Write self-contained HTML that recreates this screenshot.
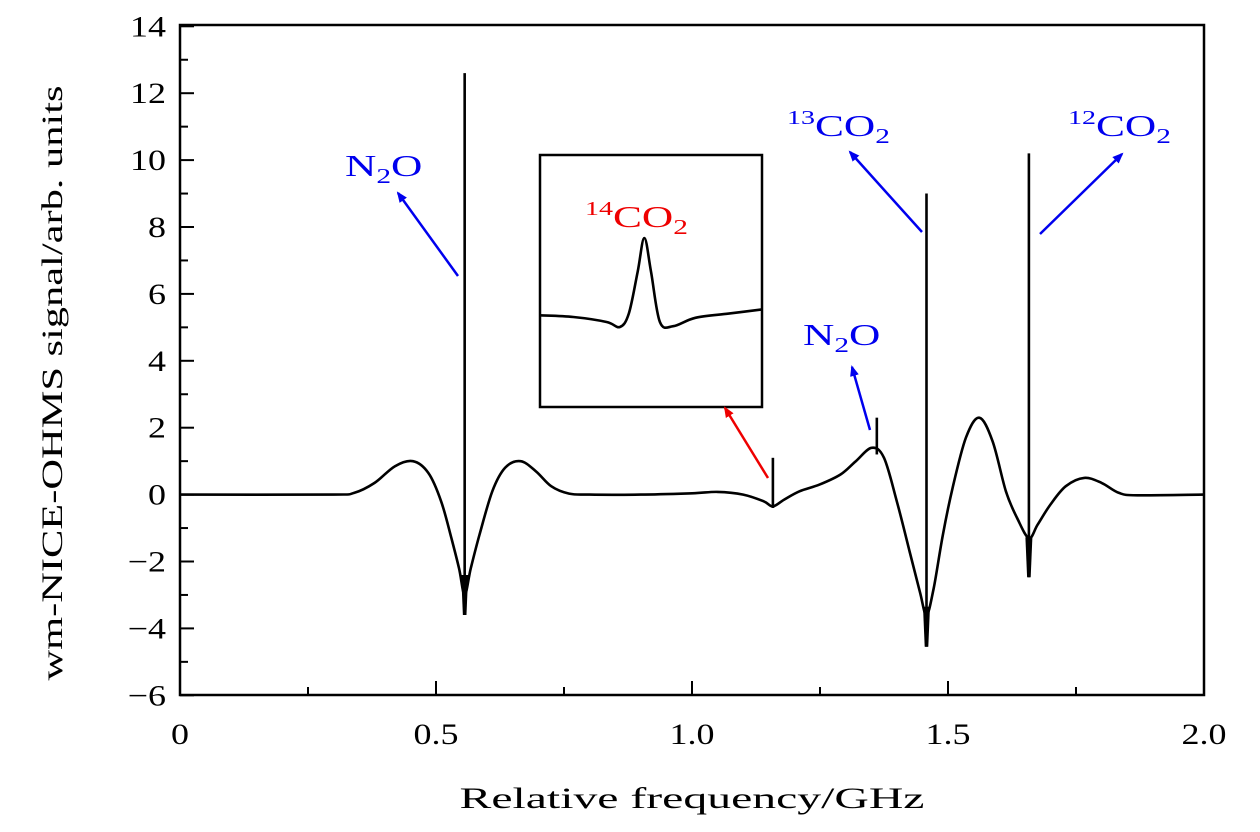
<!DOCTYPE html>
<html><head><meta charset="utf-8"><style>
body{margin:0;background:#fff;}
svg text{font-family:"Liberation Serif",serif;}
</style></head><body>
<svg width="1260" height="827" viewBox="0 0 1260 827" xmlns="http://www.w3.org/2000/svg">
<g id="ticks"></g>
<path id="curve" fill="none" stroke="#000" stroke-width="2.6" stroke-linejoin="round"/>
<g id="spikes"></g>
<rect x="180" y="25" width="1024" height="670" fill="none" stroke="#000" stroke-width="2.5"/>
<g>
<rect x="540" y="155" width="222" height="252" fill="#fff" stroke="#000" stroke-width="2.5"/>
<path id="insetCurve" fill="none" stroke="#000" stroke-width="2.6"/>
<text transform="translate(585,227) scale(1.4,1)" font-size="31" fill="#e00"><tspan font-size="20" dy="-12">14</tspan><tspan dy="12">CO</tspan><tspan font-size="21" dy="7">2</tspan></text>
</g>
<defs>
<marker id="ab" markerWidth="11" markerHeight="9" refX="9" refY="4.5" orient="auto" markerUnits="userSpaceOnUse"><path d="M0,0 L11,4.5 L0,9 z" fill="#00e"/></marker>
<marker id="ar" markerWidth="11" markerHeight="9" refX="9" refY="4.5" orient="auto" markerUnits="userSpaceOnUse"><path d="M0,0 L11,4.5 L0,9 z" fill="#e00"/></marker>
</defs>
<g stroke-width="2.5">
<line x1="458" y1="276" x2="398" y2="193" stroke="#00e" marker-end="url(#ab)"/>
<line x1="922" y1="232" x2="850" y2="152" stroke="#00e" marker-end="url(#ab)"/>
<line x1="1040" y1="234" x2="1122" y2="154" stroke="#00e" marker-end="url(#ab)"/>
<line x1="870" y1="430" x2="852" y2="367" stroke="#00e" marker-end="url(#ab)"/>
<line x1="768" y1="478" x2="725" y2="408" stroke="#e00" marker-end="url(#ar)"/>
</g>
<g fill="#00e" font-size="31">
<text transform="translate(345,176) scale(1.4,1)">N<tspan font-size="21" dy="7">2</tspan><tspan dy="-7">O</tspan></text>
<text transform="translate(803,345) scale(1.4,1)">N<tspan font-size="21" dy="7">2</tspan><tspan dy="-7">O</tspan></text>
<text transform="translate(787,136) scale(1.4,1)"><tspan font-size="20" dy="-12">13</tspan><tspan dy="12">CO</tspan><tspan font-size="21" dy="7">2</tspan></text>
<text transform="translate(1068,136) scale(1.4,1)"><tspan font-size="20" dy="-12">12</tspan><tspan dy="12">CO</tspan><tspan font-size="21" dy="7">2</tspan></text>
</g>
<text x="692" y="808" font-size="30" text-anchor="middle" textLength="465" lengthAdjust="spacingAndGlyphs">Relative frequency/GHz</text>
<text transform="translate(62,383) rotate(-90)" font-size="30" text-anchor="middle" textLength="595" lengthAdjust="spacingAndGlyphs">wm-NICE-OHMS signal/arb. units</text>
</svg>
<script>
var xTicks=[0,0.5,1.0,1.5,2.0];
var xTickLabels=["0","0.5","1.0","1.5","2.0"];
var yTicks=[-6,-4,-2,0,2,4,6,8,10,12,14];
var yTickLabels=["\u22126","\u22124","\u22122","0","2","4","6","8","10","12","14"];
var baseFreq=[0,0.3,0.34,0.38,0.42,0.455,0.485,0.51,0.53,0.545,0.556,0.568,0.585,0.61,0.635,0.665,0.695,0.725,0.76,0.8,0.9,1.0,1.05,1.1,1.14,1.158,1.18,1.21,1.249,1.29,1.32,1.351,1.375,1.4,1.425,1.445,1.458,1.472,1.49,1.509,1.535,1.561,1.587,1.613,1.635,1.658,1.675,1.7,1.73,1.766,1.8,1.834,1.87,2.0];
var baseSignal=[0,0,0.05,0.35,0.85,1.0,0.65,-0.2,-1.3,-2.2,-3.0,-2.2,-1.2,0.1,0.8,1.0,0.7,0.25,0.03,0,0,0.04,0.08,0,-0.2,-0.35,-0.15,0.1,0.3,0.6,1.0,1.4,1.1,-0.2,-1.7,-2.9,-3.6,-2.8,-1.2,0.2,1.7,2.3,1.6,0.1,-0.7,-1.3,-0.9,-0.3,0.25,0.5,0.35,0.05,-0.02,0];
var spikeFreq=[0.556,1.158,1.361,1.458,1.658];
var spikeTop=[12.6,1.1,2.3,9.0,10.2];
var spikeBottom=[-3.6,-0.4,1.2,-4.55,-2.47];
var insetX=[0,0.15,0.3,0.36,0.4,0.44,0.47,0.5,0.54,0.6,0.7,0.85,1];
var insetY=[0.08,0.06,0,-0.06,0.1,0.6,1.0,0.6,0,-0.05,0.05,0.1,0.15];
function X(f){return 180+f*512;}
function Y(v){return 494.6-v*33.45;}
function IX(t){return 540+t*222;}
function IY(v){return 322-v*84;}
function smooth(xs,ys){
  var p=[];for(var i=0;i<xs.length;i++)p.push([xs[i],ys[i]]);
  var d='M'+p[0][0].toFixed(1)+','+p[0][1].toFixed(1);
  for(var i=0;i<p.length-1;i++){
    var p0=p[i>0?i-1:i],p1=p[i],p2=p[i+1],p3=p[i+2<p.length?i+2:i+1];
    var c1x=p1[0]+(p2[0]-p0[0])/6,c1y=p1[1]+(p2[1]-p0[1])/6;
    var c2x=p2[0]-(p3[0]-p1[0])/6,c2y=p2[1]-(p3[1]-p1[1])/6;
    c1x=Math.min(Math.max(c1x,p1[0]),p2[0]);c2x=Math.min(Math.max(c2x,p1[0]),p2[0]);
    d+='C'+c1x.toFixed(1)+','+c1y.toFixed(1)+' '+c2x.toFixed(1)+','+c2y.toFixed(1)+' '+p2[0].toFixed(1)+','+p2[1].toFixed(1);
  }
  return d;
}
document.getElementById('curve').setAttribute('d',smooth(baseFreq.map(X),baseSignal.map(Y)));
document.getElementById('insetCurve').setAttribute('d',smooth(insetX.map(IX),insetY.map(IY)));
var NS='http://www.w3.org/2000/svg';
var sg=document.getElementById('spikes');
for(var s=0;s<spikeFreq.length;s++){
  var sx=X(spikeFreq[s]);
  var l=document.createElementNS(NS,'line');
  l.setAttribute('x1',sx);l.setAttribute('x2',sx);l.setAttribute('y1',Y(spikeTop[s]));l.setAttribute('y2',Y(spikeBottom[s]));
  l.setAttribute('stroke','#000');l.setAttribute('stroke-width','2.6');
  
  
  sg.appendChild(l);
  var tp=document.createElementNS(NS,'path');
  var yb=Y(spikeBottom[s]),yt=yb-40;
  tp.setAttribute('d','M'+(sx-3.5)+','+yt+' L'+(sx+3.5)+','+yt+' L'+(sx+1.8)+','+yb+' L'+(sx-1.8)+','+yb+' Z');
  tp.setAttribute('fill','#000');
  
  
  if(spikeTop[s]>5)sg.appendChild(tp);
}
var g=document.getElementById('ticks');
function ln(x1,y1,x2,y2,name){var l=document.createElementNS(NS,'line');l.setAttribute('x1',x1);l.setAttribute('y1',y1);l.setAttribute('x2',x2);l.setAttribute('y2',y2);l.setAttribute('stroke','#000');l.setAttribute('stroke-width','2');


g.appendChild(l);}
function tx(x,y,s,anchor,name){var t=document.createElementNS(NS,'text');t.setAttribute('font-size','30');t.setAttribute('text-anchor',anchor);t.setAttribute('transform','translate('+x+','+y+') scale(1.2,1)');t.textContent=s;


g.appendChild(t);}
for(var a=0;a<xTicks.length;a++){var v=xTicks[a];ln(X(v),695,X(v),681,'x-tick');tx(X(v),744,xTickLabels[a],'middle','x-tick-label');
if(a<xTicks.length-1)ln(X(v+0.25),695,X(v+0.25),687,'x-minor-tick');}
for(var b=0;b<yTicks.length;b++){var w=yTicks[b];ln(180,Y(w),194,Y(w),'y-tick');tx(166,Y(w)+10,yTickLabels[b],'end','y-tick-label');
if(b<yTicks.length-1)ln(180,Y(w+1),188,Y(w+1),'y-minor-tick');}
</script>
</body></html>
